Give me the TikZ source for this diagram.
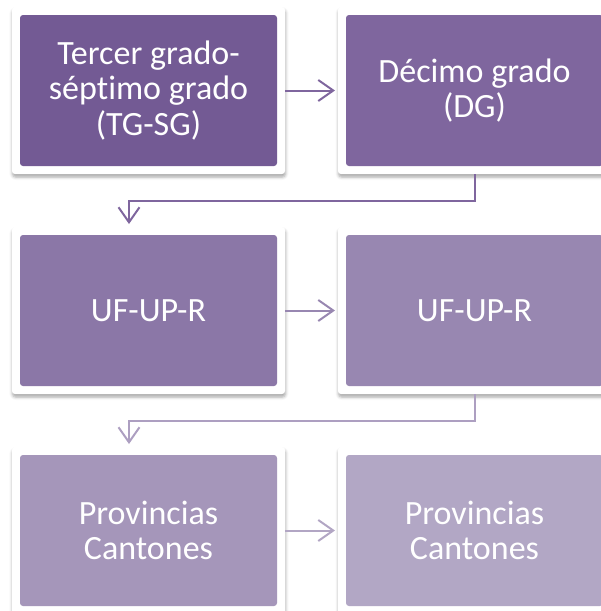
\documentclass[tikz,border=0pt]{standalone}
\usepackage{fontspec}
\setmainfont[Ligatures=NoCommon]{Carlito}
\usepackage{xcolor}
\usepackage{tikz}
\usetikzlibrary{arrows.meta}
\usetikzlibrary{positioning}
\usetikzlibrary{shadows.blur}

\definecolor{lilaA}{HTML}{735A94}
\definecolor{lilaB}{HTML}{7F669E}
\definecolor{lilaC}{HTML}{8B77A7}
\definecolor{lilaD}{HTML}{9887B1}
\definecolor{lilaE}{HTML}{A596BA}
\definecolor{lilaF}{HTML}{B2A7C5}

\begin{document}
\begin{tikzpicture}[
        x = 1pt, y = 1pt, node distance = 53pt,
        every node/.style={inner sep=0pt, outer sep=0pt},
        box/.style={rectangle, rounded corners=3pt, fill=white,
          minimum width=273pt, minimum height=167pt,
          blur shadow={shadow xshift=0.5pt, shadow yshift=-3pt, shadow blur radius=3pt, shadow opacity=35},
          text=white, align=center, font=\fontsize{34}{35.5}\selectfont,
          path picture={\fill[#1] ([shift={(8pt,8pt)}]path picture bounding box.south west)
            rectangle ([shift={(-8pt,-8pt)}]path picture bounding box.north east);}},
        link/.style={draw=#1, line width=2pt, shorten >=3pt,
          -{Straight Barb[length=15pt,width=21pt]}}
        ]
        \useasboundingbox (0,0) rectangle (601,-611);
        \node[box=lilaA] (tg) at (148.5,-90.5) {Tercer grado-\\séptimo grado\\(TG-SG)};
        \node[box=lilaB, right=of tg] (dg) {Décimo grado\\(DG)};
        \node[box=lilaC, below=of tg] (ufa) {UF-UP-R};
        \node[box=lilaD, right=of ufa] (ufb) {UF-UP-R};
        \node[box=lilaE, below=of ufa] (pca) {Provincias\\Cantones};
        \node[box=lilaF, right=of pca] (pcb) {Provincias\\Cantones};

        \draw[link=lilaB] (tg) -- (dg);
        \draw[link=lilaB] (dg.south) -- ++(0,-27) -| ([xshift=-19.5pt]ufa.north);
        \draw[link=lilaD] (ufa) -- (ufb);
        \draw[link=lilaD!80!white] (ufb.south) -- ++(0,-27) -| ([xshift=-19.5pt]pca.north);
        \draw[link=lilaE!85!white] (pca) -- (pcb);
      \end{tikzpicture}
\end{document}
